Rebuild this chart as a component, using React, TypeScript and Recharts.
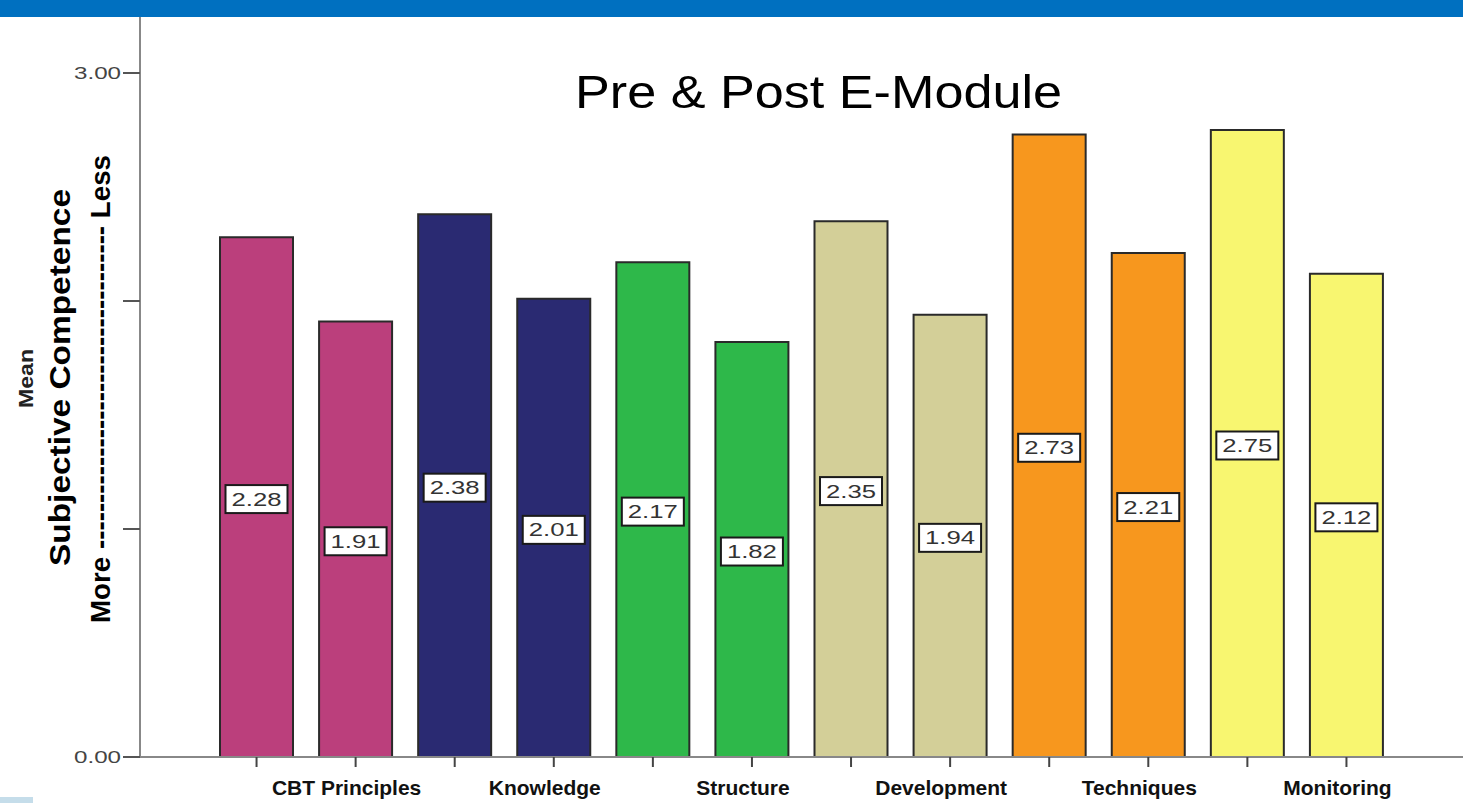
import React from 'react';
import { BarChart, Bar, XAxis, YAxis, Cell, LabelList } from 'recharts';

const categories = [
  'CBT Principles Pre', 'CBT Principles Post',
  'Knowledge Pre', 'Knowledge Post',
  'Structure Pre', 'Structure Post',
  'Development Pre', 'Development Post',
  'Techniques Pre', 'Techniques Post',
  'Monitoring Pre', 'Monitoring Post',
];
const groupLabels = ['CBT Principles', 'Knowledge', 'Structure', 'Development', 'Techniques', 'Monitoring'];
const values = [2.28, 1.91, 2.38, 2.01, 2.17, 1.82, 2.35, 1.94, 2.73, 2.21, 2.75, 2.12];
const barColors = ['#BB3F7C', '#BB3F7C', '#2A2A72', '#2A2A72', '#2EB84A', '#2EB84A', '#D3CF98', '#D3CF98', '#F7971E', '#F7971E', '#F8F670', '#F8F670'];
const yTicks = [0, 1, 2, 3];
const yTickLabels: Record<number, string> = { 0: '0.00', 3: '3.00' };
const title = 'Pre & Post E-Module';
const yTitleOuter = 'Mean';
const yTitleMain = 'Subjective Competence';
const yTitleScale = 'More ----------------------------------- Less';

const data = categories.map((name, i) => ({ name, value: values[i] }));

const FONT = '"Liberation Sans", Arial, sans-serif';

const YTick = (props: any) => {
  const { x, y, payload } = props;
  const label = yTickLabels[payload.value];
  if (!label) return null;
  return (
    <text x={x - 47} y={y} dy={6} textAnchor="start" fontFamily={FONT} fontSize={17} fill="#444" textLength={47} lengthAdjust="spacingAndGlyphs">
      {label}
    </text>
  );
};

const XTick = (props: any) => {
  const { x, index } = props;
  if (index % 2 !== 1) return null;
  const label = groupLabels[Math.floor(index / 2)];
  return (
    <g transform={`translate(${x - 9},795) scale(1.05,1)`}>
      <text x={0} y={0} textAnchor="middle" fontFamily={FONT} fontSize={20} fontWeight="bold" fill="#111">
        {label}
      </text>
    </g>
  );
};

const ValueLabel = (props: any) => {
  const { x, y, width, height, value } = props;
  const cx = x + width / 2;
  const cy = y + height / 2 + 2;
  return (
    <g>
      <rect x={cx - 31} y={cy - 14} width={62} height={28} fill="#fff" stroke="#1a1a1a" strokeWidth={2} />
      <text x={cx - 25} y={cy} dy={6.5} fontFamily={FONT} fontSize={19} fill="#333" textLength={50} lengthAdjust="spacingAndGlyphs">
        {Number(value).toFixed(2)}
      </text>
    </g>
  );
};

export default function App() {
  return (
    <div style={{ position: 'absolute', left: 0, top: 0, width: 1463, height: 803, background: '#fff', overflow: 'hidden' }}>
      <BarChart width={1463} height={803} data={data} margin={{ top: 16, right: 0, bottom: 0, left: 0 }}>
        <XAxis
          dataKey="name"
          height={46}
          interval={0}
          padding={{ left: 67, right: 67 }}
          axisLine={{ stroke: '#888', strokeWidth: 2 }}
          tickLine={{ stroke: '#444', strokeWidth: 2 }}
          tickSize={10}
          tick={<XTick />}
        />
        <YAxis
          width={140}
          domain={[0, 3.25]}
          ticks={yTicks}
          allowDataOverflow
          axisLine={{ stroke: '#888', strokeWidth: 2 }}
          tickLine={{ stroke: '#555', strokeWidth: 2 }}
          tickSize={17}
          tick={<YTick />}
        />
        <Bar dataKey="value" barSize={73} stroke="#2a2a2a" strokeWidth={2} isAnimationActive={false}>
          {data.map((d, i) => (
            <Cell key={d.name} fill={barColors[i]} />
          ))}
          <LabelList dataKey="value" content={<ValueLabel />} />
        </Bar>
      </BarChart>
      <svg width={1463} height={803} style={{ position: 'absolute', left: 0, top: 0, pointerEvents: 'none' }}>
        <rect x={0} y={0} width={1463} height={17} fill="#0070C0" />
        <rect x={0} y={797} width={33} height={6} fill="#C5DDEA" />
        <text x={575} y={108} fontFamily={FONT} fontSize={46} fill="#000" textLength={487} lengthAdjust="spacingAndGlyphs">
          {title}
        </text>
        <g transform="translate(33,378) rotate(-90)">
          <text x={-30} y={0} fontFamily={FONT} fontSize={20} fontWeight="bold" fill="#222" textLength={59} lengthAdjust="spacingAndGlyphs">
            {yTitleOuter}
          </text>
        </g>
        <g transform="translate(70,378) rotate(-90)">
          <text x={-188} y={0} fontFamily={FONT} fontSize={29} fontWeight="bold" fill="#000" textLength={377} lengthAdjust="spacingAndGlyphs">
            {yTitleMain}
          </text>
        </g>
        <g transform="translate(110,389) rotate(-90)">
          <text x={-234} y={0} fontFamily={FONT} fontSize={28} fontWeight="bold" fill="#000" textLength={468} lengthAdjust="spacingAndGlyphs">
            {yTitleScale}
          </text>
        </g>
      </svg>
    </div>
  );
}
